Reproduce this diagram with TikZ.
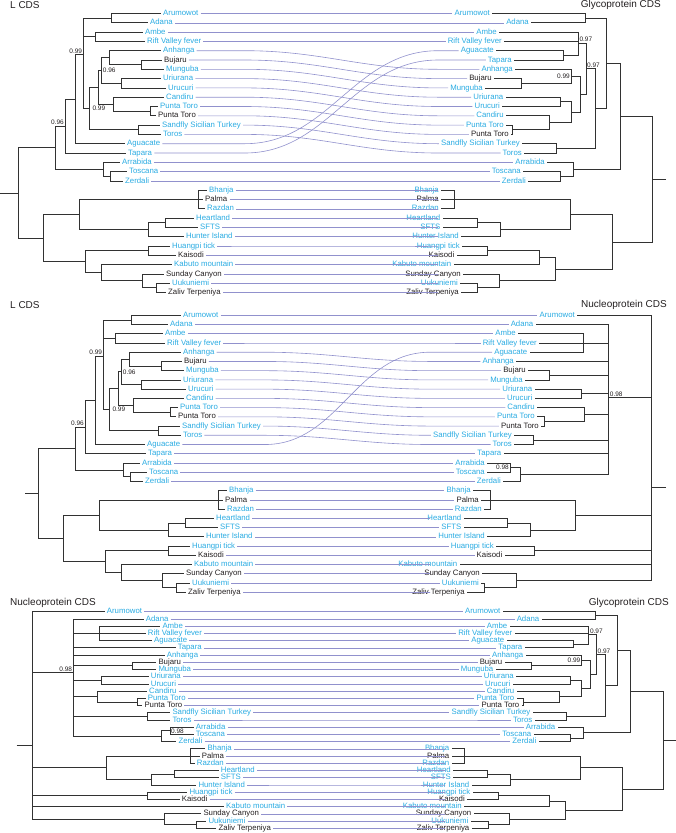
\documentclass[tikz,border=0pt]{standalone}
\usepackage{fontspec}
\setmainfont{Liberation Sans}
\usetikzlibrary{calc}

\definecolor{tipblue}{RGB}{41,171,226}
\definecolor{tipdark}{RGB}{35,31,32}
\definecolor{linkc}{RGB}{145,145,205}
\definecolor{treec}{RGB}{50,50,50}

\tikzset{
  leaf/.style={font=\fontsize{7.8}{9}\selectfont, inner sep=2pt,
               text height=5.7pt, text depth=1.5pt},
  leafl/.style={leaf, anchor=west},
  leafr/.style={leaf, anchor=east},
  blu/.style={text=tipblue},
  blk/.style={text=tipdark},
  branch/.style={draw=treec, line width=0.8pt},
  link/.style={draw=linkc, line width=0.6pt},
  supp/.style={font=\fontsize{6.5}{7}\selectfont, text=tipdark, inner sep=1pt},
  ttl/.style={font=\fontsize{10}{12}\selectfont, text=tipdark, inner sep=0pt},
}

% leaf names and colours
\newcommand{\leafdef}[3]{\expandafter\def\csname LN#1\endcsname{#2}\tikzset{lf-#1/.style={#3}}}
\newcommand{\lname}[1]{\csname LN#1\endcsname}
\leafdef{aru}{Arumowot}{blu}
\leafdef{ada}{Adana}{blu}
\leafdef{amb}{Ambe}{blu}
\leafdef{rvf}{Rift Valley fever}{blu}
\leafdef{anh}{Anhanga}{blu}
\leafdef{buj}{Bujaru}{blk}
\leafdef{mun}{Munguba}{blu}
\leafdef{uri}{Uriurana}{blu}
\leafdef{uru}{Urucuri}{blu}
\leafdef{can}{Candiru}{blu}
\leafdef{pt1}{Punta Toro}{blu}
\leafdef{pt2}{Punta Toro}{blk}
\leafdef{sst}{Sandfly Sicilian Turkey}{blu}
\leafdef{tor}{Toros}{blu}
\leafdef{agu}{Aguacate}{blu}
\leafdef{tap}{Tapara}{blu}
\leafdef{arr}{Arrabida}{blu}
\leafdef{tos}{Toscana}{blu}
\leafdef{zer}{Zerdali}{blu}
\leafdef{bha}{Bhanja}{blu}
\leafdef{pal}{Palma}{blk}
\leafdef{raz}{Razdan}{blu}
\leafdef{hea}{Heartland}{blu}
\leafdef{sft}{SFTS}{blu}
\leafdef{hun}{Hunter Island}{blu}
\leafdef{hua}{Huangpi tick}{blu}
\leafdef{kai}{Kaisodi}{blk}
\leafdef{kab}{Kabuto mountain}{blu}
\leafdef{sun}{Sunday Canyon}{blk}
\leafdef{uuk}{Uukuniemi}{blu}
\leafdef{zal}{Zaliv Terpeniya}{blk}

% L CDS tree, drawn to the left: prefix, x shift, y function, base x
\newcommand{\Ltree}[4]{%
  \foreach \id/\ns/\tp in {aru/1/161, ada/2/148, amb/3/143, rvf/4/145, anh/5/161,
      buj/6/162, mun/7/164, uri/8/161, uru/9/166, can/10/164, pt1/11/158, pt2/12/156,
      sst/13/160, tor/14/161, agu/15/125, tap/16/126, arr/17/120, tos/18/127, zer/19/123,
      bha/20/207, pal/21/203, raz/22/205, hea/23/194, sft/24/198, hun/25/184,
      hua/26/170, kai/27/176, kab/28/172, sun/29/164, uuk/30/170, zal/31/166}
    \node[leafl, lf-\id] (#1-\id) at ({#2+\tp},{#3(\ns)}) {\lname{\id}};
  \foreach \id/\nx/\ns in {aa/111/1.5, ar/95.7/3.5, bm/141/6.5, abm/109.3/5.75,
      uu/121/8.5, n96/101.7/7.125, pp/150/11.5, cp/113.3/10.75, x/98.3/8.9375,
      st/138.3/13.5, n99b/89.3/11.21875, n99a/83.3/5.40625, ag/75.7/10.20313,
      n96b/65/13.10156, tz/110/18.5, atz/103.3/17.75, sand/55/15.42578,
      bpr/198.3/21, hs/165.7/23.5, hsh/148.3/24.25, bh/79.3/22.625, hk/148.3/26.5,
      uz/156/30.5, suz/142.7/29.75, ksuz/101.7/28.875, hkk/85/27.6875,
      tick/43.3/25.15625, root/18.3/20.29102}
    \coordinate (#1-\id) at ({#2+\nx},{#3(\ns)});
  \coordinate (#1-base) at (#4,{#3(20.29102)});
  \foreach \p/\c in {aa/aru, aa/ada, ar/amb, ar/rvf, bm/buj, bm/mun, abm/anh, abm/bm,
      uu/uri, uu/uru, n96/abm, n96/uu, pp/pt1, pp/pt2, cp/can, cp/pp, x/n96, x/cp,
      st/sst, st/tor, n99b/x, n99b/st, n99a/aa, n99a/ar, n99a/n99b, ag/n99a, ag/agu,
      n96b/ag, n96b/tap, tz/tos, tz/zer, atz/arr, atz/tz, sand/n96b, sand/atz,
      bpr/bha, bpr/pal, bpr/raz, hs/hea, hs/sft, hsh/hs, hsh/hun, bh/bpr, bh/hsh,
      hk/hua, hk/kai, uz/uuk, uz/zal, suz/sun, suz/uz, ksuz/kab, ksuz/suz,
      hkk/hk, hkk/ksuz, tick/bh, tick/hkk, root/sand, root/tick}
    \draw[branch] (#1-\p) |- (#1-\c);
  \draw[branch] (#1-base) -- (#1-root);
  \node[supp, anchor=south east] (#1-s1) at (#1-n99a) {0.99};
  \node[supp, anchor=west] (#1-s2) at (#1-n96) {0.96};
  \node[supp, anchor=west, xshift=2pt] (#1-s3) at (#1-n99b) {0.99};
  \node[supp, anchor=south east] (#1-s4) at (#1-n96b) {0.96};
}

% Glycoprotein CDS tree, drawn to the right: prefix, x shift, y function
\newcommand{\Gtree}[3]{%
  \foreach \id/\ns/\tp in {aru/1/492, ada/2/531, amb/3/499, rvf/4/504, agu/5/496,
      tap/6/514, anh/7/515, buj/8/494, mun/9/485, uri/10/505.5, uru/11/502, can/12/506,
      pt1/13/506, pt2/14/511, sst/15/522, tor/16/524, arr/17/547, tos/18/523, zer/19/528,
      bha/20/441, pal/21/441, raz/22/441, hea/23/442.5, sft/24/442.5, hun/25/461,
      hua/26/462, kai/27/456.5, kab/28/453.5, sun/29/463, uuk/30/460, zal/31/461}
    \node[leafr, lf-\id] (#1-\id) at ({#2+\tp},{#3(\ns)}) {\lname{\id}};
  \foreach \id/\nx/\ns in {aa/585.3/1.5, at/563.3/5.5, a3/578.3/4.16667, bm/521/8.5,
      abm/571/7.75, uu/560/10.5, pp/512.7/13.5, cp/549.3/12.75, uucp/571/11.625,
      x/580/9.6875, y/586/6.92708, st/556/15.5, z/595/11.21354, w/606.7/6.35677,
      tz/560/18.5, atz/573.3/17.75, s/620/12.05339, bpr/454/21, hs/477/23.5,
      hsh/500/24.25, bh/570.3/22.625, hk/487.7/26.5, hkk/539/27.25, uz/477.7/30.5,
      suz/499/29.75, ks/555/28.5, tick/612/25.5625, root/652.7/18.80794}
    \coordinate (#1-\id) at ({#2+\nx},{#3(\ns)});
  \coordinate (#1-base) at ({#2+666},{#3(18.80794)});
  \foreach \p/\c in {aa/aru, aa/ada, at/agu, at/tap, a3/amb, a3/rvf, a3/at, bm/buj,
      bm/mun, abm/anh, abm/bm, uu/uri, uu/uru, pp/pt1, pp/pt2, cp/can, cp/pp,
      uucp/uu, uucp/cp, x/abm, x/uucp, y/a3, y/x, st/sst, st/tor, z/y, z/st,
      w/aa, w/z, tz/tos, tz/zer, atz/arr, atz/tz, s/w, s/atz, bpr/bha, bpr/pal,
      bpr/raz, hs/hea, hs/sft, hsh/hs, hsh/hun, bh/bpr, bh/hsh, hk/hua, hk/kai,
      hkk/hk, hkk/kab, uz/uuk, uz/zal, suz/sun, suz/uz, ks/hkk, ks/suz,
      tick/bh, tick/ks, root/s, root/tick}
    \draw[branch] (#1-\p) |- (#1-\c);
  \draw[branch] (#1-base) -- (#1-root);
  \node[supp, anchor=south west] (#1-s1) at (#1-a3) {0.97};
  \node[supp, anchor=south west] (#1-s2) at (#1-y) {0.97};
  \node[supp, anchor=east] (#1-s3) at (#1-abm) {0.99};
}

\begin{document}
\begin{tikzpicture}[x=1pt, y=-1pt,
  declare function={ya(\s)=13.5+(\s-1)*9.3; yb(\s)=315.3+(\s-1)*9.23;
                    yc(\s)=611.7+(\s-1)*7.22;}]
\useasboundingbox (0,0) rectangle (676,833);

% titles
\node[ttl, anchor=west] (ta-l) at (10,5) {L CDS};
\node[ttl, anchor=east] (ta-r) at (661,5) {Glycoprotein CDS};
\node[ttl, anchor=west] (tb-l) at (10,305) {L CDS};
\node[ttl, anchor=east] (tb-r) at (667,305) {Nucleoprotein CDS};
\node[ttl, anchor=west] (tc-l) at (10,603) {Nucleoprotein CDS};
\node[ttl, anchor=east] (tc-r) at (669,603) {Glycoprotein CDS};

% top: L vs glycoprotein
\Ltree{al}{0}{ya}{0}
\Gtree{ar}{0}{ya}

% middle: L vs nucleoprotein
\Ltree{bl}{20}{yb}{25}
\foreach \id/\ns/\tp in {aru/1/577, ada/2/535.5, amb/3/518, rvf/4/539, agu/5/529.5,
    anh/6/516, buj/7/528, mun/8/525, uri/9/534.5, uru/10/534.5, can/11/537,
    pt1/12/537, pt2/13/541, sst/14/514, tor/15/514, tap/16/503.5, arr/17/487,
    tos/18/487, zer/19/503, bha/20/473, pal/21/481, raz/22/484, hea/23/463.5,
    sft/24/463.5, hun/25/487, hua/26/496, kai/27/504.5, kab/28/459.5, sun/29/482,
    uuk/30/481, zal/31/467}
  \node[leafr, lf-\id] (br-\id) at (\tp,{yb(\ns)}) {\lname{\id}};
\foreach \id/\nx/\ns in {rav/583.3/4, bm/549.3/7.5, uu/581/9.5, pp/544.3/12.5,
    cp/584.3/11.75, st/533.7/14.5, at/510/17.5, atz/520/18.25, n98/608.7/9.94444,
    bpr/490/21, hs/507.7/23.5, hsh/530/24.25, bh/575.3/22.625, hk/534.3/26.5,
    uz/484.3/30.5, suz/516/29.75, root/651.5/19.63657}
  \coordinate (br-\id) at (\nx,{yb(\ns)});
\coordinate (br-base) at (666,{yb(19.63657)});
\node[supp, anchor=south west] (br-s1) at (br-n98) {0.98};
\node[supp, anchor=east] (br-s2) at (br-at) {0.98};

% bottom: nucleoprotein vs glycoprotein
\foreach \id/\ns/\tp in {aru/1/104.7, ada/2/143.7, amb/3/160.3, rvf/4/145.7, agu/5/152,
    tap/6/175.7, anh/7/164.7, buj/8/156.3, mun/9/156.3, uri/10/148.7, uru/11/148.7,
    can/12/147, pt1/13/145.7, pt2/14/142.3, sst/15/170.3, tor/16/170.3, arr/17/193.7,
    tos/18/193.7, zer/19/176.3, bha/20/205.3, pal/21/199.7, raz/22/194.7,
    hea/23/218.7, sft/24/218.7, hun/25/196.3, hua/26/187.3, kai/27/179.7,
    kab/28/224, sun/29/201.3, uuk/30/206.3, zal/31/216.3}
  \node[leafl, lf-\id] (cl-\id) at (\tp,{yc(\ns)}) {\lname{\id}};
\foreach \id/\nx/\ns in {rav/99/4, bm/132.7/8.5, uu/101.7/10.5, pp/137.3/13.5,
    cp/97.3/12.75, st/147.7/15.5, at/170/17.5, atz/161.7/18.25, n98/73.3/9.38889,
    bpr/190/21, hs/174/23.5, hsh/151.7/24.25, bh/106.7/22.625, hk/147.3/26.5,
    uz/196.7/30.5, suz/164/29.75, root/32.3/19.54398}
  \coordinate (cl-\id) at (\nx,{yc(\ns)});
\coordinate (cl-base) at (16.7,{yc(19.54398)});
\node[supp, anchor=south east] (cl-s1) at (cl-n98) {0.98};
\node[supp, anchor=west] (cl-s2) at (cl-at) {0.98};
\Gtree{cr}{10.5}{yc}

% nucleoprotein branches (both copies)
\foreach \tr in {br, cl} {
  \foreach \p/\c in {rav/amb, rav/rvf, rav/agu, bm/buj, bm/mun, uu/uri, uu/uru,
      pp/pt1, pp/pt2, cp/can, cp/pp, st/sst, st/tor, at/arr, at/tos, atz/at, atz/zer,
      n98/ada, n98/rav, n98/tap, n98/anh, n98/bm, n98/uu, n98/cp, n98/st, n98/atz,
      bpr/bha, bpr/pal, bpr/raz, hs/hea, hs/sft, hsh/hs, hsh/hun, bh/bpr, bh/hsh,
      hk/hua, hk/kai, uz/uuk, uz/zal, suz/sun, suz/uz, root/aru, root/n98,
      root/bh, root/hk, root/kab, root/suz}
    \draw[branch] (\tr-\p) |- (\tr-\c);
  \draw[branch] (\tr-base) -- (\tr-root);
}

% tanglegram links
\coordinate (abl) at (245,0);  \coordinate (abr) at (438,0);
\coordinate (bbl) at (265,0);  \coordinate (bbr) at (430,0);
\coordinate (cbl) at (290,0);  \coordinate (cbr) at (445,0);
\foreach \pl/\pr/\bl/\br in {al/ar/abl/abr, bl/br/bbl/bbr, cl/cr/cbl/cbr} {
  \foreach \id in {aru, ada, amb, rvf, anh, buj, mun, uri, uru, can, pt1, pt2, sst,
      tor, agu, tap, arr, tos, zer, bha, pal, raz, hea, sft, hun, hua, kai, kab,
      sun, uuk, zal}
    \draw[link] (\pl-\id.east) -- (\pl-\id.east -| \bl)
      to[out=0, in=180] (\pr-\id.west -| \br) -- (\pr-\id.west);
}
\end{tikzpicture}
\end{document}
